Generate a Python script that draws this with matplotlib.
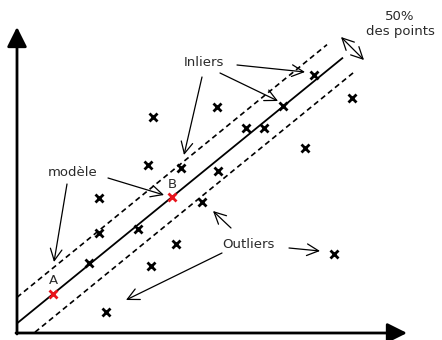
import matplotlib
matplotlib.use("Agg")
import matplotlib.pyplot as plt
import numpy as np

# ---- data (pixel-like coordinate system, y grows downward) ----
point_x = [106, 89, 99, 99, 138, 151, 176, 148, 153, 181, 202, 218, 217, 246, 264, 283, 314, 305, 352, 334]
point_y = [312, 263, 233, 198, 229, 266, 244, 165, 117, 168, 202, 171, 107, 128, 128, 106, 75, 148, 98, 254]
model_x = [53, 172]
model_y = [294, 197]
model_labels = ["A", "B"]
line_x_range = [17, 343]
upper_x_range = [17, 327]
lower_x_range = [35, 354]
upper_offset = -26
lower_offset = 23.5

fig = plt.figure(figsize=(4.42, 3.40), dpi=100)
ax = fig.add_axes([0, 0, 1, 1])
ax.set_xlim(0, 442)
ax.set_ylim(340, 0)
ax.axis("off")

txt_color = "#2a2a2a"
fs = 9.5

# axes arrows
head = "-|>,head_length=0.6,head_width=0.3"
ax.annotate("", xy=(17, 27), xytext=(17, 334),
            arrowprops=dict(arrowstyle=head, lw=2, color="k", mutation_scale=20,
                            shrinkA=0, shrinkB=0))
ax.annotate("", xy=(407, 333), xytext=(16, 333),
            arrowprops=dict(arrowstyle=head, lw=2, color="k", mutation_scale=20,
                            shrinkA=0, shrinkB=0))

# model line through A and B
slope = (model_y[1] - model_y[0]) / (model_x[1] - model_x[0])
def f(x, off=0.0):
    x = np.asarray(x, dtype=float)
    return model_y[0] + slope * (x - model_x[0]) + off

ax.plot(line_x_range, f(line_x_range), color="k", lw=1.3, solid_capstyle="butt")
ax.plot(upper_x_range, f(upper_x_range, upper_offset), color="k", lw=1.2,
        dashes=(3.2, 2.2))
ax.plot(lower_x_range, f(lower_x_range, lower_offset), color="k", lw=1.2,
        dashes=(3.2, 2.2))

# points
ax.plot(point_x, point_y, "x", color="k", ms=6.3, mew=2)
ax.plot(model_x, model_y, "x", color="#e8141c", ms=6.3, mew=2)
for x, y, lab in zip(model_x, model_y, model_labels):
    ax.text(x, y - 13, lab, ha="center", va="center", fontsize=fs, color=txt_color)

# annotations
arr = dict(arrowstyle="->,head_length=0.6,head_width=0.3", lw=0.9, color="k",
           mutation_scale=14, shrinkA=0, shrinkB=0)

ax.text(204, 62, "Inliers", ha="center", va="center", fontsize=fs, color=txt_color)
ax.annotate("", xy=(184, 155), xytext=(202, 77), arrowprops=arr)
ax.annotate("", xy=(305, 72), xytext=(237, 65), arrowprops=arr)
ax.annotate("", xy=(278, 101), xytext=(220, 73), arrowprops=arr)

ax.text(73, 173, "modèle", ha="center", va="center", fontsize=fs, color=txt_color)
ax.annotate("", xy=(54, 262), xytext=(67, 184), arrowprops=arr)
ax.annotate("", xy=(164, 195), xytext=(108, 178), arrowprops=arr)

ax.text(248, 244, "Outliers", ha="center", va="center", fontsize=fs, color=txt_color)
ax.annotate("", xy=(213, 211), xytext=(231, 228), arrowprops=arr)
ax.annotate("", xy=(320, 251), xytext=(289, 248), arrowprops=arr)
ax.annotate("", xy=(126, 300), xytext=(222, 253), arrowprops=arr)

ax.text(400, 24, "50%\ndes points", ha="center", va="center", fontsize=fs,
        color=txt_color, linespacing=1.3)
arr2 = dict(arr)
arr2["arrowstyle"] = "<->,head_length=0.6,head_width=0.3"
ax.annotate("", xy=(364, 60), xytext=(341, 37), arrowprops=arr2)

fig.savefig("out.png", dpi=100)
